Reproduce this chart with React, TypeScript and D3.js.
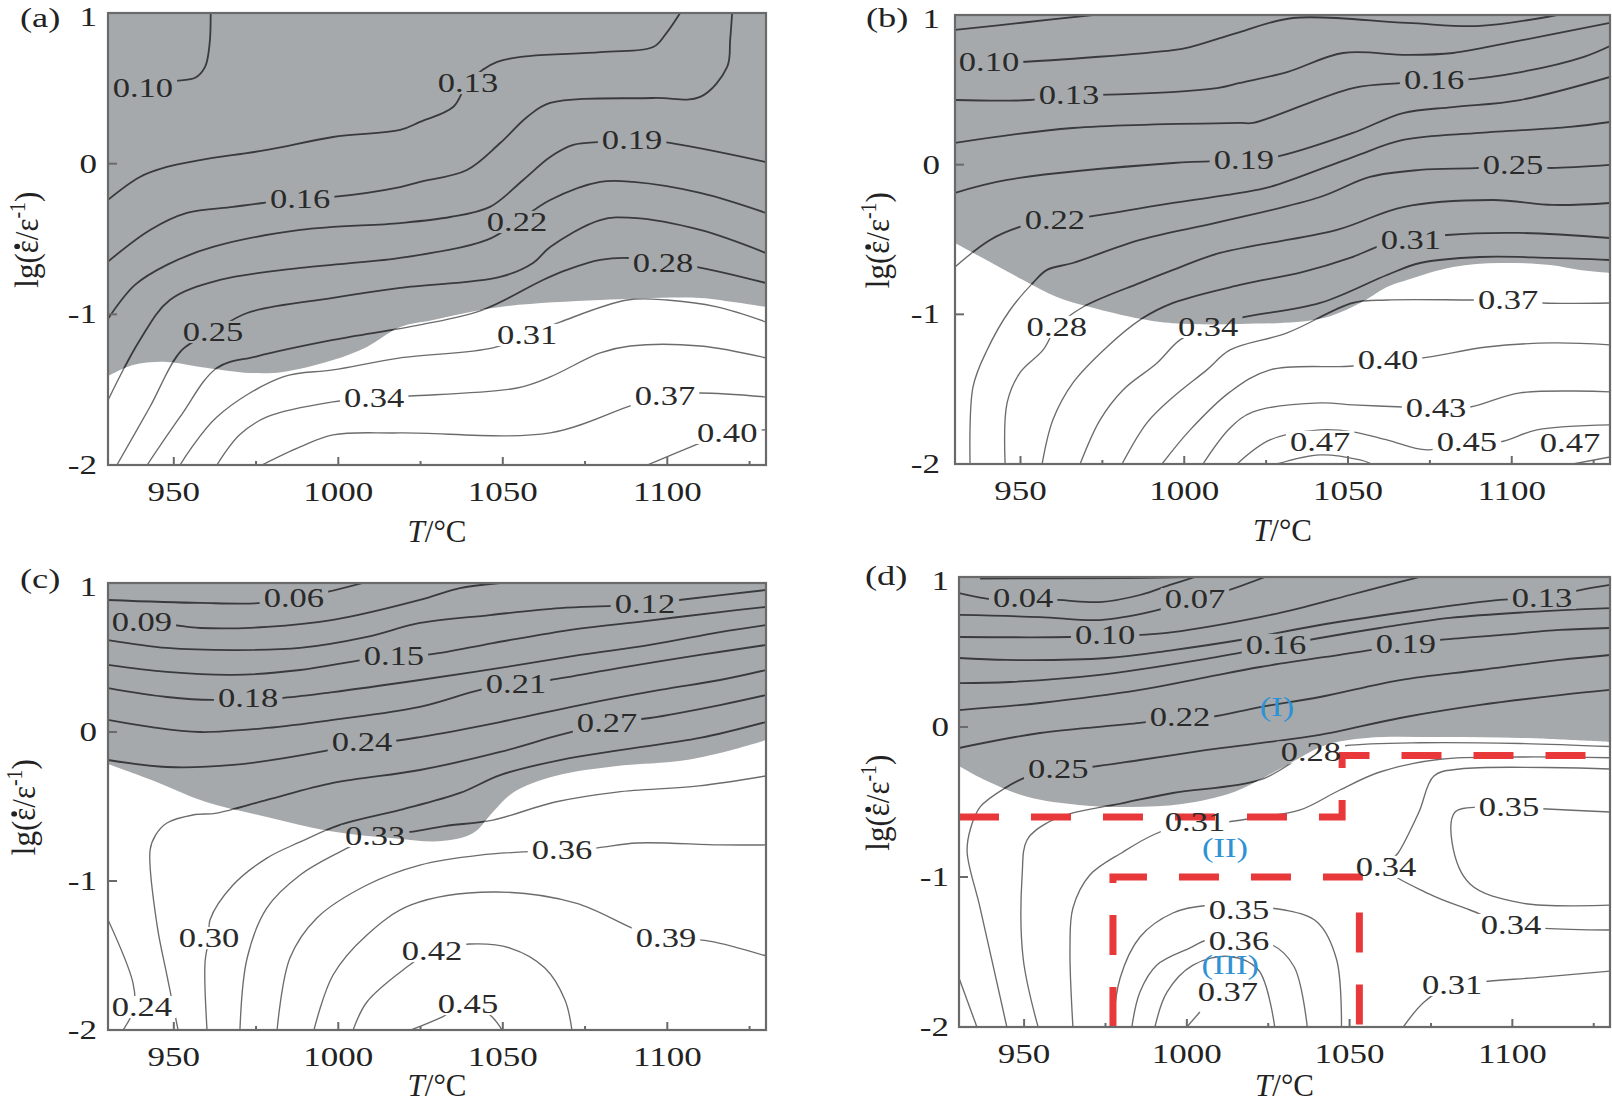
import React from "react";
import * as d3 from "d3";

type Pt = [number, number];
type CLine = { level: string; pts: Pt[] };
type CLabel = { text: string; t: number; lg: number };

const T_DOMAIN: [number, number] = [930, 1130];
const LG_DOMAIN: [number, number] = [-2, 1];
const X_TICKS = [950, 1000, 1050, 1100];
const X_MINOR = [975, 1025, 1075, 1125];
const Y_TICKS = [-2, -1, 0, 1];

// ---------------- panel (a) ----------------
const aUnstable: Pt[] = [[930,-1.41],[937.6,-1.336],[947.9,-1.316],[958,-1.349],[973.2,-1.389],[983.2,-1.382],[998.4,-1.303],[1008.7,-1.216],[1018.8,-1.084],[1028.8,-1.037],[1049.2,-0.951],[1079.6,-0.905],[1110,-0.891],[1120,-0.918],[1130,-0.951]];
const aLines: CLine[] = [
  { level: "0.10", pts: [[961.2,1],[960.9,0.8],[959.5,0.642],[956.5,0.57],[950.4,0.549],[940.6,0.5],[930,0.49]] },
  { level: "0.13", pts: [[1103.9,1],[1099.5,0.86],[1095.7,0.774],[1079.6,0.74],[1048.3,0.675],[1039.4,0.535],[1034.9,0.376],[1024.8,0.277],[1018.8,0.224],[998.4,0.177],[978.3,0.091],[958,0.024],[947.9,-0.022],[939.7,-0.088],[930,-0.24]] },
  { level: "0.16", pts: [[1119.7,1],[1119.1,0.82],[1118.2,0.642],[1110,0.443],[1095.7,0.436],[1064.4,0.403],[1057.4,0.31],[1049.2,0.137],[1039.1,-0.042],[1024.8,-0.121],[1018.8,-0.155],[998.4,-0.221],[988.4,-0.234],[977.1,-0.261],[968,-0.287],[954,-0.327],[942.8,-0.44],[930,-0.65]] },
  { level: "0.19", pts: [[1130,0.011],[1098.7,0.144],[1089.3,0.157],[1080.2,0.144],[1071.4,0.124],[1064.4,0.044],[1056.2,-0.108],[1046.1,-0.287],[1034,-0.354],[1018.8,-0.394],[988.4,-0.44],[961.9,-0.553],[947.9,-0.672],[938.2,-0.805],[930,-1.03]] },
  { level: "0.22", pts: [[1130,-0.327],[1110,-0.194],[1089.6,-0.121],[1079.6,-0.121],[1064.4,-0.241],[1054.3,-0.387],[1045.2,-0.506],[1018.8,-0.626],[988.4,-0.692],[964,-0.772],[948.8,-0.905],[939.7,-1.17],[930,-1.57]] },
  { level: "0.25", pts: [[1130,-0.593],[1110,-0.44],[1089.6,-0.36],[1079.6,-0.374],[1064.4,-0.553],[1059.2,-0.659],[1049.2,-0.752],[1018.8,-0.825],[998.4,-0.891],[972.3,-0.991],[961.9,-1.117],[952.5,-1.236],[942.6,-1.62],[932.7,-2]] },
  { level: "0.28", pts: [[1130,-0.792],[1109.1,-0.686],[1098.7,-0.66],[1088.7,-0.626],[1079.6,-0.639],[1069.5,-0.705],[1062.2,-0.772],[1044,-0.97],[1024.8,-1.07],[998.4,-1.17],[975,-1.28],[963.1,-1.356],[951.9,-1.681],[941.9,-2]] },
  { level: "0.31", pts: [[1130,-1.051],[1115.1,-0.951],[1099.9,-0.905],[1087.8,-0.905],[1067.4,-1.051],[1057.4,-1.137],[1047,-1.223],[1018.8,-1.289],[998.4,-1.369],[983.2,-1.415],[963.1,-1.681],[951.9,-2]] },
  { level: "0.34", pts: [[1130,-1.289],[1110,-1.21],[1088.7,-1.21],[1079.6,-1.256],[1064.4,-1.415],[1054.3,-1.489],[1021.8,-1.542],[1010.9,-1.555],[998.4,-1.581],[978.3,-1.681],[970,-1.8],[963.1,-2]] },
  { level: "0.37", pts: [[1130,-1.548],[1109.1,-1.522],[1099.3,-1.542],[1089.6,-1.601],[1064.4,-1.787],[1018.8,-1.787],[998.4,-1.8],[988.4,-1.88],[976.8,-2]] },
  { level: "0.40", pts: [[1093.9,-2],[1110,-1.854],[1118.2,-1.787],[1130,-1.767]] },
];
const aLabels: CLabel[] = [
  { text: "0.10", t: 940.6, lg: 0.5 }, { text: "0.13", t: 1039.4, lg: 0.535 }, { text: "0.16", t: 988.4, lg: -0.234 },
  { text: "0.19", t: 1089.3, lg: 0.157 }, { text: "0.22", t: 1054.3, lg: -0.387 }, { text: "0.25", t: 961.9, lg: -1.117 },
  { text: "0.28", t: 1098.7, lg: -0.66 }, { text: "0.31", t: 1057.4, lg: -1.137 }, { text: "0.34", t: 1010.9, lg: -1.555 },
  { text: "0.37", t: 1099.3, lg: -1.542 }, { text: "0.40", t: 1118.2, lg: -1.787 },
];

// ---------------- panel (b) ----------------
const bUnstable: Pt[] = [[930,-0.523],[940.7,-0.65],[950.8,-0.77],[961.1,-0.884],[971.2,-0.951],[986.5,-1.03],[996.6,-1.06],[1017,-1.065],[1041.5,-1.03],[1053.7,-0.924],[1061.9,-0.817],[1068,-0.77],[1082.1,-0.683],[1096.4,-0.657],[1111.7,-0.67],[1120.8,-0.703],[1130,-0.723]];
const bLines: CLine[] = [
  { level: "0.07", pts: [[930,0.9],[951,0.95],[972.1,1]] },
  { level: "0.10", pts: [[930,0.686],[940.4,0.686],[949.8,0.686],[996.6,0.766],[1001.8,0.786],[1010.9,0.846],[1017,0.886],[1033.2,0.98],[1068,0.947],[1090.3,0.927],[1113.8,1]] },
  { level: "0.13", pts: [[930,0.432],[952.9,0.432],[964.8,0.466],[973.7,0.466],[1010,0.512],[1017,0.546],[1031.4,0.619],[1048.5,0.746],[1068,0.733],[1082.1,0.746],[1100.4,0.82],[1130,0.947]] },
  { level: "0.16", pts: [[930,0.145],[966,0.245],[1017,0.279],[1021,0.279],[1051.5,0.512],[1066.8,0.546],[1076.3,0.566],[1084.2,0.566],[1102.8,0.619],[1121.8,0.719],[1130,0.793]] },
  { level: "0.19", pts: [[930,-0.189],[945.9,-0.102],[996.6,0.011],[1018.2,0.031],[1027.7,0.051],[1051.5,0.212],[1066.8,0.345],[1082.1,0.385],[1102.5,0.432],[1130,0.586]] },
  { level: "0.22", pts: [[930,-0.683],[940.7,-0.503],[949.8,-0.416],[960.5,-0.369],[970.3,-0.349],[996.6,-0.256],[1017,-0.189],[1026.2,-0.149],[1051.5,0.051],[1066.8,0.165],[1090.3,0.212],[1117.8,0.252],[1130,0.285]] },
  { level: "0.25", pts: [[934.6,-2],[935.5,-1.485],[939.8,-1.238],[946.8,-0.971],[953.8,-0.79],[958.1,-0.703],[966,-0.657],[986.5,-0.503],[1010.9,-0.383],[1041.5,-0.216],[1056.7,-0.082],[1072,-0.035],[1090.3,-0.022],[1100.4,-0.002],[1110.8,-0.022],[1130,-0.002]] },
  { level: "0.28", pts: [[945.3,-2],[945.9,-1.592],[949.8,-1.391],[956.9,-1.238],[961.1,-1.084],[969.1,-0.951],[986.5,-0.79],[996.6,-0.703],[1010.9,-0.59],[1046.6,-0.436],[1066.8,-0.283],[1094.3,-0.236],[1112.6,-0.269],[1130,-0.256]] },
  { level: "0.31", pts: [[956.6,-2],[959.9,-1.705],[966,-1.458],[976.4,-1.218],[986.5,-1.037],[996.6,-0.924],[1017,-0.804],[1036.3,-0.717],[1050.6,-0.623],[1060.7,-0.536],[1069.2,-0.503],[1080.2,-0.47],[1102.5,-0.456],[1130,-0.49]] },
  { level: "0.34", pts: [[968.2,-2],[974.3,-1.705],[981.3,-1.505],[991.7,-1.325],[998.7,-1.171],[1007.3,-1.084],[1017,-1.024],[1041.5,-0.924],[1061.9,-0.737],[1072,-0.657],[1090.3,-0.617],[1111.7,-0.623],[1130,-0.637]] },
  { level: "0.37", pts: [[981,-2],[988.6,-1.725],[996.6,-1.552],[1006.9,-1.371],[1014,-1.238],[1031.4,-1.124],[1051.5,-0.924],[1061.9,-0.904],[1087.3,-0.904],[1098.9,-0.904],[1109.5,-0.924],[1130,-0.924]] },
  { level: "0.40", pts: [[993.2,-2],[1001.8,-1.772],[1014,-1.518],[1026.2,-1.371],[1051.5,-1.345],[1062.2,-1.305],[1072.9,-1.291],[1092.4,-1.218],[1112.6,-1.191],[1130,-1.204]] },
  { level: "0.43", pts: [[1005.7,-2],[1014,-1.759],[1021,-1.652],[1041.5,-1.592],[1051.5,-1.605],[1066.8,-1.619],[1076.9,-1.625],[1087.3,-1.619],[1102.5,-1.525],[1130,-1.518]] },
  { level: "0.45", pts: [[1016.1,-2],[1026.2,-1.839],[1041.5,-1.772],[1051.5,-1.785],[1061.9,-1.839],[1074.1,-1.906],[1086.3,-1.852],[1096.4,-1.852],[1107.7,-1.772],[1130,-1.739]] },
  { level: "0.47", pts: [[1028.3,-2],[1041.5,-1.939],[1053.7,-1.973],[1057.3,-2]] },
  { level: "0.47", pts: [[1118.7,-2],[1130,-1.953]] },
];
const bLabels: CLabel[] = [
  { text: "0.10", t: 940.4, lg: 0.686 }, { text: "0.13", t: 964.8, lg: 0.466 }, { text: "0.16", t: 1076.3, lg: 0.566 },
  { text: "0.19", t: 1018.2, lg: 0.031 }, { text: "0.22", t: 960.5, lg: -0.369 }, { text: "0.25", t: 1100.4, lg: -0.002 },
  { text: "0.28", t: 961.1, lg: -1.084 }, { text: "0.31", t: 1069.2, lg: -0.503 }, { text: "0.34", t: 1007.3, lg: -1.084 },
  { text: "0.37", t: 1098.9, lg: -0.904 }, { text: "0.40", t: 1062.2, lg: -1.305 }, { text: "0.43", t: 1076.9, lg: -1.625 },
  { text: "0.45", t: 1086.3, lg: -1.852 }, { text: "0.47", t: 1041.5, lg: -1.852 }, { text: "0.47", t: 1117.8, lg: -1.859 },
];

// ---------------- panel (c) ----------------
const cUnstable: Pt[] = [[930,-0.215],[944,-0.329],[959.8,-0.47],[978.3,-0.57],[997.2,-0.664],[1016,-0.711],[1031.5,-0.732],[1041,-0.678],[1047,-0.537],[1053.4,-0.403],[1065.9,-0.295],[1084.7,-0.228],[1103.6,-0.195],[1116,-0.141],[1130,-0.054]];
const cLines: CLine[] = [
  { level: "0.06", pts: [[930,0.886],[958,0.866],[977.1,0.866],[986.5,0.899],[996.6,0.94],[1007.5,1]] },
  { level: "0.09", pts: [[930,0.738],[940.3,0.738],[949.8,0.718],[958,0.698],[978.3,0.705],[998.4,0.752],[1024.8,0.886],[1037,0.966],[1049.2,1]] },
  { level: "0.12", pts: [[930,0.617],[947.9,0.564],[968,0.55],[988.4,0.564],[1008.7,0.638],[1024.8,0.732],[1046.1,0.785],[1067.4,0.832],[1083.2,0.846],[1093.2,0.859],[1103.6,0.886],[1130,0.953]] },
  { level: "0.15", pts: [[930,0.45],[947.9,0.403],[968,0.383],[988.4,0.416],[1007.2,0.483],[1016.9,0.51],[1028.5,0.523],[1047,0.597],[1072.2,0.691],[1090.8,0.738],[1116,0.805],[1130,0.839]] },
  { level: "0.18", pts: [[930,0.295],[947.9,0.235],[961.9,0.215],[972.6,0.228],[982.3,0.228],[998.4,0.268],[1024.8,0.349],[1049.2,0.43],[1073.5,0.517],[1094.7,0.584],[1116,0.671],[1130,0.718]] },
  { level: "0.21", pts: [[930,0.081],[942.8,0.034],[958,0],[978.3,0.027],[998.4,0.081],[1024.8,0.168],[1043.1,0.282],[1054,0.322],[1064.4,0.349],[1085.6,0.43],[1109.9,0.517],[1130,0.584]] },
  { level: "0.24", pts: [[930,-0.188],[947.9,-0.235],[968,-0.221],[994.4,-0.134],[1007.2,-0.07],[1016.6,-0.06],[1024.8,-0.034],[1049.2,0.067],[1073.5,0.181],[1097.8,0.282],[1116,0.349],[1130,0.416]] },
  { level: "0.27", pts: [[951.3,-2],[947.9,-1.631],[944.9,-1.295],[942.8,-0.792],[944.5,-0.691],[947.9,-0.611],[955.8,-0.557],[963.1,-0.544],[978.3,-0.456],[998.4,-0.342],[1024.8,-0.255],[1049.2,-0.134],[1067.4,-0.02],[1081.7,0.06],[1094.7,0.094],[1116,0.181],[1130,0.248]] },
  { level: "0.30", pts: [[960.1,-2],[959.5,-1.544],[960.7,-1.383],[961,-1.262],[968,-1.027],[978.3,-0.846],[988.4,-0.738],[1000.5,-0.624],[1018.8,-0.523],[1037,-0.409],[1049.2,-0.289],[1067.4,-0.188],[1085.6,-0.121],[1109.9,-0.04],[1130,0.067]] },
  { level: "0.33", pts: [[970.1,-2],[972.3,-1.517],[978.3,-1.181],[988.4,-0.96],[1000.5,-0.805],[1011.2,-0.698],[1021.8,-0.671],[1032.4,-0.631],[1047,-0.591],[1065.9,-0.47],[1084.7,-0.403],[1109.6,-0.362],[1130,-0.295]] },
  { level: "0.36", pts: [[981.4,-2],[985.3,-1.517],[993.5,-1.248],[1008.7,-1.027],[1024.8,-0.893],[1043.1,-0.826],[1068,-0.792],[1078.3,-0.779],[1090.8,-0.745],[1116,-0.758],[1130,-0.758]] },
  { level: "0.39", pts: [[992.6,-2],[998.4,-1.631],[1008.7,-1.362],[1022.1,-1.161],[1047,-1.074],[1072.2,-1.148],[1090.8,-1.329],[1099.6,-1.383],[1112.7,-1.403],[1130,-1.503]] },
  { level: "0.42", pts: [[1004.5,-2],[1008.7,-1.812],[1019.7,-1.597],[1028.5,-1.47],[1040,-1.423],[1052.2,-1.45],[1062.8,-1.584],[1068.9,-1.799],[1071,-2]] },
  { level: "0.45", pts: [[1022.1,-2],[1031.5,-1.913],[1039.4,-1.826],[1046.1,-1.899],[1049.8,-2]] },
  { level: "0.24", pts: [[930,-1.26],[937.6,-1.685],[938,-1.85],[934.6,-2]] },
];
const cLabels: CLabel[] = [
  { text: "0.06", t: 986.5, lg: 0.899 }, { text: "0.09", t: 940.3, lg: 0.738 }, { text: "0.12", t: 1093.2, lg: 0.859 },
  { text: "0.15", t: 1016.9, lg: 0.51 }, { text: "0.18", t: 972.6, lg: 0.228 }, { text: "0.21", t: 1054, lg: 0.322 },
  { text: "0.24", t: 1007.2, lg: -0.07 }, { text: "0.27", t: 1081.7, lg: 0.06 }, { text: "0.30", t: 960.7, lg: -1.383 },
  { text: "0.33", t: 1011.2, lg: -0.698 }, { text: "0.36", t: 1068, lg: -0.792 }, { text: "0.39", t: 1099.6, lg: -1.383 },
  { text: "0.42", t: 1028.5, lg: -1.47 }, { text: "0.45", t: 1039.4, lg: -1.826 }, { text: "0.24", t: 940.3, lg: -1.846 },
];

// ---------------- panel (d) ----------------
const dUnstable: Pt[] = [[930,-0.26],[938.6,-0.36],[951.2,-0.467],[966.9,-0.52],[982.8,-0.533],[998.5,-0.513],[1014.5,-0.433],[1030.2,-0.26],[1042.7,-0.12],[1055.3,-0.073],[1077.5,-0.067],[1102.7,-0.073],[1130,-0.1]];
const dLines: CLine[] = [
  { level: "0.01", pts: [[936.5,0.99],[981.6,0.993],[1000,1]] },
  { level: "0.04", pts: [[930,0.893],[940.4,0.85],[950.3,0.847],[960.1,0.847],[973.3,0.833],[985.6,0.88],[994.8,0.947],[1002.5,1]] },
  { level: "0.07", pts: [[930,0.747],[954.9,0.733],[973.3,0.713],[988.7,0.767],[1002.5,0.853],[1010.2,0.893],[1024,1]] },
  { level: "0.10", pts: [[930,0.6],[964.1,0.6],[974.9,0.61],[984.1,0.613],[995.7,0.633],[1022.5,0.733],[1034.8,0.793],[1050.1,0.88],[1065.5,0.967],[1071.6,1]] },
  { level: "0.13", pts: [[930,0.46],[944.7,0.447],[975.5,0.46],[995.7,0.513],[1016.3,0.58],[1040.9,0.68],[1071.6,0.78],[1096.2,0.847],[1109.1,0.86],[1120.8,0.913],[1130,0.947]] },
  { level: "0.16", pts: [[930,0.293],[945.7,0.3],[973.3,0.347],[1004,0.447],[1027.4,0.54],[1040,0.59],[1059.3,0.66],[1080.8,0.727],[1105.4,0.767],[1130,0.793]] },
  { level: "0.19", pts: [[930,0.113],[954.9,0.16],[985.6,0.247],[1006.2,0.333],[1022.5,0.4],[1056.3,0.513],[1067.3,0.556],[1077.5,0.58],[1096.2,0.613],[1114.6,0.647],[1130,0.66]] },
  { level: "0.22", pts: [[930,-0.14],[954.9,-0.04],[985.6,0.027],[997.9,0.064],[1007.1,0.067],[1022.5,0.133],[1040.9,0.2],[1065.5,0.313],[1090.1,0.38],[1114.6,0.447],[1130,0.48]] },
  { level: "0.25", pts: [[944.7,-2],[936.5,-1.207],[932.5,-0.833],[933.5,-0.68],[936.5,-0.533],[944.7,-0.4],[950.9,-0.333],[960.5,-0.283],[970.2,-0.267],[985.6,-0.22],[1006.2,-0.153],[1022.5,-0.107],[1040.9,-0.053],[1065.5,0.06],[1090.1,0.147],[1114.6,0.213],[1130,0.247]] },
  { level: "0.22", pts: [[930,-1.673],[935.5,-2]] },
  { level: "0.28", pts: [[954.3,-2],[949.7,-1.54],[949.4,-0.987],[950.9,-0.753],[957,-0.64],[965,-0.573],[980.4,-0.507],[995.7,-0.44],[1022.5,-0.353],[1038.1,-0.17],[1048.6,-0.125],[1071.6,-0.105],[1102.4,-0.11],[1130,-0.13]] },
  { level: "0.31", pts: [[965,-2],[964.1,-1.473],[965,-1.207],[970.2,-0.987],[980.4,-0.833],[989.6,-0.72],[1001,-0.636],[1009.3,-0.64],[1022.5,-0.6],[1034.8,-0.553],[1047,-0.42],[1059.3,-0.3],[1077.8,-0.215],[1102.4,-0.2],[1130,-0.205]] },
  { level: "0.34", pts: [[1130,-0.28],[1083.9,-0.28],[1075.9,-0.327],[1071.3,-0.567],[1064.9,-0.84],[1061.2,-0.933],[1074.4,-1.113],[1087,-1.22],[1099.6,-1.32],[1130,-1.353]] },
  { level: "0.35", pts: [[1130,-0.567],[1109.1,-0.545],[1099,-0.533],[1090.1,-0.533],[1082.4,-0.567],[1081.5,-0.773],[1087,-1.047],[1102.7,-1.173],[1130,-1.187]] },
  { level: "0.31", pts: [[1066.5,-2],[1072.9,-1.833],[1081.5,-1.72],[1090.1,-1.7],[1109.1,-1.667],[1130,-1.627]] },
  { level: "0.35", pts: [[977.3,-2],[979.5,-1.673],[985.6,-1.4],[995.7,-1.24],[1006,-1.19],[1016,-1.2],[1030,-1.22],[1040,-1.3],[1046,-1.55],[1047.5,-2]] },
  { level: "0.36", pts: [[983.1,-2],[985.6,-1.767],[990.8,-1.587],[1001,-1.473],[1006.2,-1.42],[1016,-1.427],[1026,-1.45],[1033,-1.6],[1037,-2]] },
  { level: "0.37", pts: [[990.2,-2],[993.9,-1.767],[1001.9,-1.587],[1013,-1.53],[1022,-1.62],[1027,-2]] },
  { level: "0.37", pts: [[1000,-2],[1004,-1.9]] },
];
const dLabels: CLabel[] = [
  { text: "0.04", t: 949.7, lg: 0.86 }, { text: "0.07", t: 1002.5, lg: 0.853 }, { text: "0.10", t: 974.9, lg: 0.613 },
  { text: "0.13", t: 1109.1, lg: 0.86 }, { text: "0.16", t: 1027.4, lg: 0.547 }, { text: "0.19", t: 1067.3, lg: 0.556 },
  { text: "0.22", t: 997.9, lg: 0.064 }, { text: "0.25", t: 960.5, lg: -0.283 }, { text: "0.28", t: 1038.1, lg: -0.17 },
  { text: "0.31", t: 1002.5, lg: -0.633 }, { text: "0.34", t: 1061.2, lg: -0.933 }, { text: "0.35", t: 1099, lg: -0.533 },
  { text: "0.35", t: 1016, lg: -1.22 }, { text: "0.36", t: 1016, lg: -1.427 }, { text: "0.37", t: 1012.6, lg: -1.767 },
  { text: "0.34", t: 1099.6, lg: -1.32 }, { text: "0.31", t: 1081.5, lg: -1.72 },
];
const dRegionII: Pt[] = [[930,-0.6],[1047.7,-0.6],[1047.7,-0.19],[1130,-0.19]];
const dRegionIII: Pt[] = [[977.3,-2],[977.3,-1],[1053,-1],[1053,-2]];
const dRegionTags: CLabel[] = [
  { text: "(I)", t: 1027.7, lg: 0.133 }, { text: "(II)", t: 1011.7, lg: -0.807 }, { text: "(III)", t: 1013.3, lg: -1.59 },
];

// ---------------- layout ----------------
type PanelCfg = {
  id: string; tag: string; box: [number, number, number, number];
  lines: CLine[]; labels: CLabel[]; unstable: Pt[];
  tagXY: [number, number]; tickGap: number; titleX: number;
  regions?: Pt[][]; regionTags?: CLabel[];
};
const PANELS: PanelCfg[] = [
  { id: "a", tag: "(a)", box: [108, 13, 766, 465], lines: aLines, labels: aLabels, unstable: aUnstable, tagXY: [20, 27], tickGap: 11, titleX: 38 },
  { id: "b", tag: "(b)", box: [955, 15, 1610, 464], lines: bLines, labels: bLabels, unstable: bUnstable, tagXY: [866, 27], tickGap: 15, titleX: 889 },
  { id: "c", tag: "(c)", box: [108, 583, 766, 1030], lines: cLines, labels: cLabels, unstable: cUnstable, tagXY: [20, 588], tickGap: 11, titleX: 35 },
  { id: "d", tag: "(d)", box: [959, 577, 1610, 1027], lines: dLines, labels: dLabels, unstable: dUnstable, tagXY: [865, 585], tickGap: 10, titleX: 889, regions: [dRegionII, dRegionIII], regionTags: dRegionTags },
];

const W = 1612, H = 1105;
const FONT = "'Liberation Serif', 'Times New Roman', serif";
const SX = 1.28;
const LABEL_FS = 27;

function textWidth(s: string, fs: number) {
  let w = 0;
  for (const ch of s) w += ch === "." ? 0.25 : ch === "(" || ch === ")" ? 0.333 : ch === "I" ? 0.333 : 0.5;
  return w * fs * SX;
}

function SText(props: { x: number; y: number; fs: number; anchor?: string; fill?: string; children: React.ReactNode; sx?: number }) {
  const { x, y, fs, anchor = "middle", fill = "#222", children, sx = SX } = props;
  return (
    <text transform={`translate(${x},${y}) scale(${sx},1)`} textAnchor={anchor as any} fontSize={fs} fontFamily={FONT} fill={fill}>
      {children}
    </text>
  );
}

function YTitle({ x, y }: { x: number; y: number }) {
  const fs = 31;
  const sup = 20;
  const em = (v: number) => v * fs;
  const total = em(0.278 + 0.5 + 0.333 + 0.44 + 0.278 + 0.44 + 0.333) + sup * 0.833;
  const start = -total / 2;
  const epsCenter = start + em(0.278 + 0.5 + 0.333 + 0.22);
  return (
    <g transform={`translate(${x},${y}) rotate(-90) scale(1,1.12)`}>
      <text x={start} y={0} fontSize={fs} fontFamily={FONT} fill="#222">
        lg(ε/ε<tspan fontSize={sup} dy={-12}>-1</tspan><tspan dy={12}>)</tspan>
      </text>
      <circle cx={epsCenter} cy={-em(0.6)} r={2.6} fill="#222" />
    </g>
  );
}

function Panel({ p }: { p: PanelCfg }) {
  const [x0, y0, x1, y1] = p.box;
  const x = d3.scaleLinear().domain(T_DOMAIN).range([x0, x1]);
  const y = d3.scaleLinear().domain(LG_DOMAIN).range([y1, y0]);
  const curve = d3.curveCatmullRom.alpha(0.5);
  const lineGen = d3.line<Pt>().x((d) => x(d[0])).y((d) => y(d[1])).curve(curve);
  const grayArea = d3.area<Pt>().x((d) => x(d[0])).y0(y0 - 3).y1((d) => y(d[1])).curve(curve);
  const whiteArea = d3.area<Pt>().x((d) => x(d[0])).y0(y1 + 3).y1((d) => y(d[1])).curve(curve);
  const rectLine = d3.line<Pt>().x((d) => x(d[0])).y((d) => y(d[1]));
  const id = p.id;
  const grayPath = grayArea(p.unstable) || "";
  const whitePath = whiteArea(p.unstable) || "";
  const paths = p.lines.map((l) => lineGen(l.pts) || "");
  const titleY = Math.min(y1 + 77, 1096);

  return (
    <g>
      <defs>
        <clipPath id={`plot-${id}`}><rect x={x0} y={y0} width={x1 - x0} height={y1 - y0} /></clipPath>
        <clipPath id={`gray-${id}`}><path d={grayPath} /></clipPath>
        <clipPath id={`white-${id}`}><path d={whitePath} /></clipPath>
        <mask id={`lm-${id}`} maskUnits="userSpaceOnUse" x={0} y={0} width={W} height={H}>
          <rect x={0} y={0} width={W} height={H} fill="white" />
          {p.labels.map((l, i) => {
            const w = textWidth(l.text, LABEL_FS) + 8;
            const h = LABEL_FS * 0.82;
            return <rect key={i} x={x(l.t) - w / 2} y={y(l.lg) - h / 2} width={w} height={h} fill="black" />;
          })}
        </mask>
      </defs>
      <rect x={x0} y={y0} width={x1 - x0} height={y1 - y0} fill="#ffffff" />
      <g clipPath={`url(#plot-${id})`}>
        <path d={grayPath} fill="#a6a9ab" />
        <g mask={`url(#lm-${id})`}>
          <g clipPath={`url(#gray-${id})`}>
            {paths.map((d, i) => <path key={i} d={d} fill="none" stroke="#383a3b" strokeWidth={1.8} />)}
          </g>
          <g clipPath={`url(#white-${id})`}>
            {paths.map((d, i) => <path key={i} d={d} fill="none" stroke="#6c6c6c" strokeWidth={1.35} />)}
          </g>
        </g>
        {p.regions && p.regions.map((r, i) => (
          <path key={i} d={rectLine(r) || ""} fill="none" stroke="#e8383a" strokeWidth={7} strokeDasharray="40 32" />
        ))}
      </g>
      {p.labels.map((l, i) => (
        <SText key={i} x={x(l.t)} y={y(l.lg) + LABEL_FS * 0.33} fs={LABEL_FS} fill="#2a2a2a">{l.text}</SText>
      ))}
      {p.regionTags && p.regionTags.map((l, i) => (
        <SText key={i} x={x(l.t)} y={y(l.lg) + LABEL_FS * 0.33} fs={LABEL_FS} fill="#2f92d4">{l.text}</SText>
      ))}
      <rect x={x0} y={y0} width={x1 - x0} height={y1 - y0} fill="none" stroke="#6a6a6a" strokeWidth={2.2} />
      {X_TICKS.map((t) => <line key={t} x1={x(t)} x2={x(t)} y1={y1} y2={y1 - 8} stroke="#6a6a6a" strokeWidth={2} />)}
      {X_MINOR.map((t) => <line key={t} x1={x(t)} x2={x(t)} y1={y1} y2={y1 - 4} stroke="#6a6a6a" strokeWidth={2} />)}
      {Y_TICKS.map((t) => <line key={t} x1={x0} x2={x0 + 9} y1={y(t)} y2={y(t)} stroke="#6a6a6a" strokeWidth={2} />)}
      {X_TICKS.map((t) => <SText key={t} x={x(t)} y={y1 + 36} fs={28} sx={1.25}>{String(t)}</SText>)}
      {Y_TICKS.map((t) => (
        <SText key={t} x={x0 - p.tickGap} y={t === 1 ? y0 + 13 : y(t) + 9} fs={28} sx={1.25} anchor="end">{String(t)}</SText>
      ))}
      <SText x={p.tagXY[0]} y={p.tagXY[1]} fs={28} sx={1.3} anchor="start">{p.tag}</SText>
      <text x={(x0 + x1) / 2} y={titleY} textAnchor="middle" fontSize={31} fontFamily={FONT} fill="#222">
        <tspan fontStyle="italic">T</tspan>/°C
      </text>
      <YTitle x={p.titleX} y={(y0 + y1) / 2} />
    </g>
  );
}

export default function App() {
  return (
    <svg width={W} height={H} viewBox={`0 0 ${W} ${H}`} style={{ position: "absolute", left: 0, top: 0, background: "#fff" }}>
      <rect x={0} y={0} width={W} height={H} fill="#fff" />
      {PANELS.map((p) => <Panel key={p.id} p={p} />)}
    </svg>
  );
}
